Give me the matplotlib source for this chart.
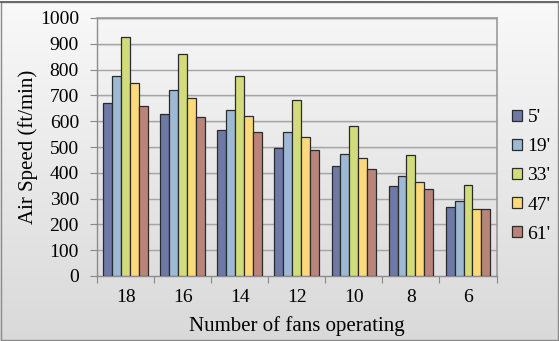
import numpy as np
import matplotlib
matplotlib.use("Agg")
import matplotlib.pyplot as plt
from matplotlib.patches import Rectangle
from matplotlib.colors import LinearSegmentedColormap

# Air speed measured at different distances for each fan count
fan_counts = ["18", "16", "14", "12", "10", "8", "6"]
distances = ["5'", "19'", "33'", "47'", "61'"]
speed_5 = [670, 629, 567, 498, 428, 348, 266]
speed_19 = [776, 719, 642, 560, 474, 387, 291]
speed_33 = [925, 861, 776, 683, 580, 469, 351]
speed_47 = [749, 691, 621, 540, 456, 363, 260]
speed_61 = [660, 617, 559, 490, 416, 339, 258]
series = [speed_5, speed_19, speed_33, speed_47, speed_61]
colors = ["#6f79a6", "#9eb9d3", "#d3dc7b", "#fcd97b", "#b9857a"]
yticks = list(range(0, 1001, 100))

plt.rcParams["font.family"] = ["Liberation Serif", "DejaVu Serif"]

fig = plt.figure(figsize=(5.59, 3.41), dpi=100)

# figure background gradient
bg = fig.add_axes([0, 0, 1, 1], zorder=-10)
grad = np.linspace(0, 1, 256).reshape(-1, 1)
fig_cmap = LinearSegmentedColormap.from_list("figbg", ["#f9f9f9", "#d9d9d9"])
bg.imshow(grad, aspect="auto", cmap=fig_cmap, extent=[0, 1, 0, 1], origin="upper")
bg.set_axis_off()
fig.patches.append(Rectangle((0.0015, 0.002), 0.997, 0.993, transform=fig.transFigure,
                             fill=False, edgecolor="#8a8a8a", linewidth=1.0))
fig.patches.append(Rectangle((0, 0.992), 1, 0.004, transform=fig.transFigure,
                             facecolor="#6a6a6a", edgecolor="none"))

W, H = 559, 341
left, right, top, bottom = 97, 496.5, 18, 276
ax = fig.add_axes([left / W, 1 - bottom / H, (right - left) / W, (bottom - top) / H])
ax.patch.set_alpha(0)
plot_cmap = LinearSegmentedColormap.from_list("plotbg", ["#f6f6f6", "#dedede"])
ax.imshow(grad, aspect="auto", cmap=plot_cmap, extent=[0, 1, 0, 1], origin="upper",
          transform=ax.transAxes, zorder=0)

n_groups = len(fan_counts)
x = np.arange(n_groups)
bar_w = 0.156
for i, (vals, col, lab) in enumerate(zip(series, colors, distances)):
    offs = (i - 2) * bar_w
    ax.bar(x + offs, vals, width=bar_w, color=col, edgecolor="#2b2b2b",
           linewidth=0.9, label=lab, zorder=3)

ax.set_xlim(-0.5, n_groups - 0.5)
ax.set_ylim(0, 1000)
ax.set_yticks(yticks)
ax.set_yticklabels([str(v) for v in yticks], fontsize=14)
for v in yticks[1:]:
    ax.axhline(v, color="#a5a5a5", linewidth=1.0, zorder=1)
    ax.axhline(v - 3, color="#dcdcdc", linewidth=0.8, zorder=0.9)

ax.set_xticks(np.arange(-0.5, n_groups, 1.0))
ax.set_xticklabels([])
ax.set_xticks(x, minor=True)
ax.set_xticklabels(fan_counts, minor=True, fontsize=14)
ax.tick_params(axis="x", which="major", length=5, color="#888888", direction="out")
ax.tick_params(axis="x", which="minor", length=0, pad=9)
ax.tick_params(axis="y", length=5, color="#888888", direction="out", pad=8)

for side in ["left", "bottom"]:
    ax.spines[side].set_color("#8c8c8c")
    ax.spines[side].set_linewidth(1.0)
for side in ["top", "right"]:
    ax.spines[side].set_color("#9a9a9a")
    ax.spines[side].set_linewidth(1.2)

ax.set_ylabel("Air Speed (ft/min)", fontsize=15)
ax.yaxis.set_label_coords((28 - left) / (right - left), 0.5)
ax.set_xlabel("Number of fans operating", fontsize=15)
ax.xaxis.set_label_coords(0.5, -(326.5 - bottom) / (bottom - top))
ax.xaxis.label.set_va("center")
ax.yaxis.label.set_va("center")

leg = fig.legend(loc="center left", bbox_to_anchor=(512 / W, 1 - 176 / H), frameon=False,
                 fontsize=14, handlelength=0.5, handleheight=0.5, handletextpad=0.3,
                 labelspacing=0.62, borderpad=0, borderaxespad=0)

fig.savefig("out.png", dpi=100)
